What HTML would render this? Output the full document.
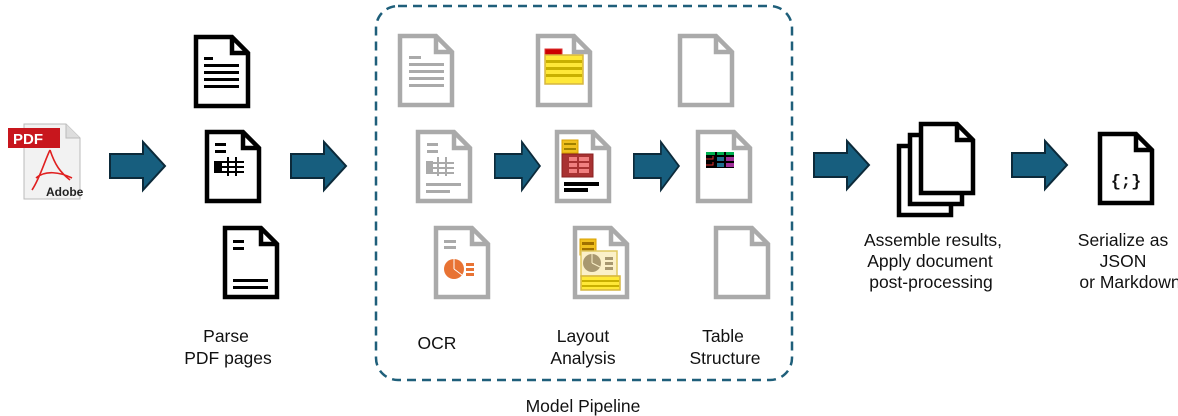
<!DOCTYPE html>
<html><head><meta charset="utf-8"><style>
html,body{margin:0;padding:0;background:#fff;}
svg{display:block;}
text{font-family:"Liberation Sans",sans-serif;font-size:17.5px;fill:#111;}
</style></head><body>
<svg width="1178" height="416" viewBox="0 0 1178 416" xmlns="http://www.w3.org/2000/svg">
<defs>
<g id="dk"><path d="M2 2 H38 L54 18 V71 H2 Z" fill="#fff" stroke="#000" stroke-width="4.5" stroke-linejoin="miter"/><path d="M38 2 V18 H54" fill="none" stroke="#000" stroke-width="4.5"/></g>
<g id="dg"><path d="M2 2 H38 L54 18 V71 H2 Z" fill="#fff" stroke="#aaa" stroke-width="4.5"/><path d="M38 2 V18 H54" fill="none" stroke="#aaa" stroke-width="4.5"/></g>
<g id="ar"><path d="M1 13 H34 V1 L56 25 L34 49 V37 H1 Z" fill="#175e7e" stroke="#0c2a3a" stroke-width="2"/></g>
</defs>

<rect x="376" y="6" width="416" height="374" rx="22" fill="none" stroke="#1f5f7a" stroke-width="2.5" stroke-dasharray="9,6"/>

<path d="M24 124 H66 L80 138 V199 H24 Z" fill="#f2f2f2" stroke="#bbb" stroke-width="1"/>
<path d="M66 124 V138 H80" fill="#ddd" stroke="#bbb" stroke-width="1"/>
<rect x="8" y="128" width="52" height="20" fill="#c8161d"/>
<text x="13" y="144" style="font-size:15px;font-weight:bold;fill:#fff">PDF</text>
<path d="M50 150 C45 160 40 178 32 190 M36 178 C45 170 60 172 72 178 M50 150 C55 165 60 172 70 180" fill="none" stroke="#e02020" stroke-width="1.6"/>
<text x="46" y="196" style="font-size:12px;font-weight:bold;fill:#222">Adobe</text>

<use href="#ar" x="109" y="141"/>
<use href="#ar" x="290" y="141"/>
<g transform="translate(494,141) scale(0.82,1)"><use href="#ar"/></g>
<g transform="translate(633,141) scale(0.82,1)"><use href="#ar"/></g>
<use href="#ar" x="813" y="140"/>
<use href="#ar" x="1011" y="140"/>

<g transform="translate(194,35)"><use href="#dk"/>
<g fill="#000"><rect x="10" y="22" width="9" height="3"/><rect x="10" y="29" width="35" height="3"/><rect x="10" y="36" width="35" height="3"/><rect x="10" y="43" width="35" height="3"/><rect x="10" y="50" width="35" height="3"/></g></g>
<g transform="translate(205,130)"><use href="#dk"/>
<g fill="#000"><rect x="10" y="13" width="11" height="3"/><rect x="10" y="20" width="11" height="3"/><rect x="9" y="31" width="30" height="2"/><rect x="9" y="36" width="30" height="2"/><rect x="9" y="41" width="30" height="2"/><rect x="9" y="31" width="8" height="12"/><rect x="22" y="27" width="2" height="19"/><rect x="30" y="27" width="2" height="19"/></g></g>
<g transform="translate(223,226)"><use href="#dk"/>
<g fill="#000"><rect x="10" y="14" width="11" height="3"/><rect x="10" y="21" width="11" height="3"/><rect x="10" y="53" width="35" height="3"/><rect x="10" y="60" width="35" height="3"/></g></g>

<g transform="translate(398,34)"><use href="#dg"/>
<g fill="#aaa"><rect x="11" y="22" width="12" height="3"/><rect x="11" y="29" width="35" height="3"/><rect x="11" y="36" width="35" height="3"/><rect x="11" y="43" width="35" height="3"/><rect x="11" y="50" width="35" height="3"/></g></g>
<g transform="translate(416,130)"><use href="#dg"/>
<g fill="#aaa"><rect x="11" y="13" width="11" height="3"/><rect x="11" y="20" width="11" height="3"/><rect x="10" y="32" width="28" height="2"/><rect x="10" y="37" width="28" height="2"/><rect x="10" y="42" width="28" height="2"/><rect x="10" y="31" width="7" height="13"/><rect x="21" y="27" width="2" height="19"/><rect x="29" y="27" width="2" height="19"/><rect x="10" y="53" width="35" height="3"/><rect x="10" y="60" width="24" height="3"/></g></g>
<g transform="translate(434,226)"><use href="#dg"/>
<g fill="#aaa"><rect x="10" y="14" width="12" height="3"/><rect x="10" y="20" width="12" height="3"/></g>
<circle cx="20" cy="43" r="10" fill="#e87334"/><path d="M20 43 V33 M20 43 L28 49" stroke="#fff" stroke-width="1"/>
<g fill="#e87334"><rect x="32" y="37" width="8" height="3"/><rect x="32" y="42" width="8" height="3"/><rect x="32" y="47" width="8" height="3"/></g></g>

<g transform="translate(536,34)"><use href="#dg"/>
<rect x="9" y="15" width="17" height="7" fill="#c00" stroke="#d33" stroke-width="1"/>
<rect x="9" y="21" width="38" height="29" fill="#ffe838" stroke="#d6b640" stroke-width="1.5"/>
<g fill="#c9b000"><rect x="10" y="26" width="36" height="3"/><rect x="10" y="33" width="36" height="3"/><rect x="10" y="40" width="36" height="3"/></g></g>
<g transform="translate(555,130)"><use href="#dg"/>
<rect x="7" y="10" width="16" height="13" fill="#f0c020" stroke="#d8a000" stroke-width="1"/><rect x="9" y="13" width="12" height="2" fill="#a08000"/><rect x="9" y="18" width="12" height="2" fill="#a08000"/>
<rect x="7" y="24" width="31" height="23" fill="#a83232" stroke="#8a2020" stroke-width="1"/>
<g fill="#f08080"><rect x="14" y="27" width="8" height="4"/><rect x="24" y="27" width="10" height="4"/><rect x="14" y="33" width="8" height="4"/><rect x="24" y="33" width="10" height="4"/><rect x="14" y="39" width="8" height="4"/><rect x="24" y="39" width="10" height="4"/></g>
<rect x="9" y="52" width="35" height="4" fill="#000"/><rect x="9" y="58" width="24" height="4" fill="#000"/></g>
<g transform="translate(573,226)"><use href="#dg"/>
<rect x="7" y="13" width="16" height="16" fill="#f0c020" stroke="#d8a000" stroke-width="1"/><rect x="9" y="16" width="12" height="3" fill="#a07000"/><rect x="9" y="22" width="12" height="3" fill="#a07000"/>
<rect x="8" y="25" width="36" height="25" fill="#fbf0c8" stroke="#e0c860" stroke-width="1.5"/>
<circle cx="19" cy="37" r="9" fill="#a89870"/><path d="M19 37 V28 M19 37 L27 41" stroke="#fbf0c8" stroke-width="1"/>
<g fill="#a89870"><rect x="32" y="31" width="8" height="3"/><rect x="32" y="36" width="8" height="3"/><rect x="32" y="41" width="8" height="3"/></g>
<rect x="8" y="50" width="39" height="14" fill="#ffe838" stroke="#d6b640" stroke-width="1.5"/><rect x="9" y="54" width="37" height="2" fill="#c9b000"/><rect x="9" y="59" width="37" height="2" fill="#c9b000"/></g>

<g transform="translate(678,34)"><use href="#dg"/></g>
<g transform="translate(696,130)"><use href="#dg"/>
<rect x="10" y="22" width="28" height="16" fill="#000"/>
<rect x="10" y="22" width="9" height="3" fill="#00b050"/><rect x="21" y="22" width="7" height="3" fill="#00b050"/><rect x="30" y="22" width="8" height="3" fill="#00b050"/>
<rect x="21" y="27" width="7" height="4" fill="#1f6f8f"/><rect x="30" y="27" width="8" height="4" fill="#a0309a"/>
<rect x="21" y="33" width="7" height="4" fill="#1f6f8f"/><rect x="30" y="33" width="8" height="4" fill="#a0309a"/>
<path d="M10 29 H17 V26 M10 35 H17 V32" stroke="#e03030" stroke-width="1" fill="none"/></g>
<g transform="translate(714,226)"><use href="#dg"/></g>

<g transform="translate(897,144)"><use href="#dk"/></g>
<g transform="translate(908,133)"><use href="#dk"/></g>
<g transform="translate(919,122)"><use href="#dk"/></g>

<g transform="translate(1098,132)"><use href="#dk"/></g>
<text x="1126" y="186" text-anchor="middle" style="font-family:'Liberation Mono',monospace;font-size:17px;font-weight:bold">{;}</text>

<text x="226" y="342" text-anchor="middle">Parse</text>
<text x="228" y="364" text-anchor="middle">PDF pages</text>
<text x="437" y="349" text-anchor="middle">OCR</text>
<text x="583" y="342" text-anchor="middle">Layout</text>
<text x="583" y="364" text-anchor="middle">Analysis</text>
<text x="723" y="342" text-anchor="middle">Table</text>
<text x="725" y="364" text-anchor="middle">Structure</text>
<text x="583" y="412" text-anchor="middle">Model Pipeline</text>
<text x="933" y="246" text-anchor="middle">Assemble results,</text>
<text x="930" y="267" text-anchor="middle">Apply document</text>
<text x="931" y="288" text-anchor="middle">post-processing</text>
<text x="1123" y="246" text-anchor="middle">Serialize as</text>
<text x="1123" y="267" text-anchor="middle">JSON</text>
<text x="1130" y="288" text-anchor="middle">or Markdown</text>
</svg>
</body></html>
